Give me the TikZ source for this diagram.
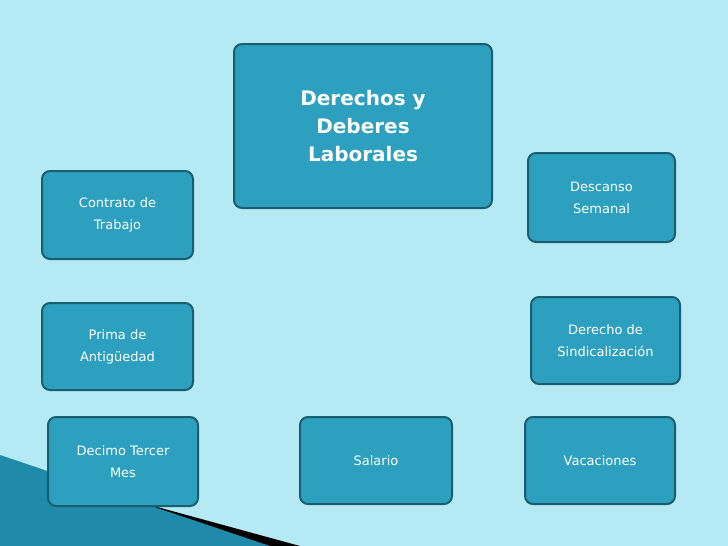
\documentclass[tikz,border=0pt]{standalone}
\usepackage{fontspec}
\setmainfont{DejaVu Sans}
\begin{document}
\begin{tikzpicture}[x=1pt,y=-1pt,
  bx/.style={draw=boxedge,line width=2pt,fill=boxfill,rounded corners=8pt,text=white,align=center,font=\fontsize{13}{22}\selectfont,anchor=north west,inner sep=0pt},
  band/.style={draw=bandc,line width=11pt}]
\definecolor{bg}{HTML}{B5E9F3}
\definecolor{boxfill}{HTML}{2CA0BE}
\definecolor{boxedge}{HTML}{195F70}
\definecolor{bandc}{HTML}{A9CEDC}
\definecolor{wedge}{HTML}{1F8AAA}
\fill[bg] (0,0) rectangle (728,546);
\useasboundingbox (0,0) rectangle (728,546);
% decorative wedge
\fill[black] (0,470) -- (150,505) -- (300,546) -- (0,546) -- cycle;
\fill[wedge] (0,455) -- (270,546) -- (0,546) -- cycle;
% nodes
\node[bx,minimum width=258pt,minimum height=164pt,font=\bfseries\fontsize{20}{28}\selectfont] (m) at (233,43) {Derechos y\\Deberes\\Laborales};
\node[bx,minimum width=151pt,minimum height=88pt] (c) at (41,170) {Contrato de\\Trabajo};
\node[bx,minimum width=147pt,minimum height=89pt] (d) at (527,152) {Descanso\\Semanal};
\node[bx,minimum width=151pt,minimum height=87pt] (p) at (41,302) {Prima de\\Antigüedad};
\node[bx,minimum width=149pt,minimum height=87pt] (s) at (530,296) {Derecho de\\Sindicalización};
\node[bx,minimum width=150pt,minimum height=89pt] (t) at (47,416) {Decimo Tercer\\Mes};
\node[bx,minimum width=152pt,minimum height=87pt] (sa) at (299,416) {Salario};
\node[bx,minimum width=150pt,minimum height=87pt] (v) at (524,416) {Vacaciones};
% bands
\begin{scope}[on background layer/.style={}]
\end{scope}
\begin{pgfonlayer}{main}\end{pgfonlayer}
\end{tikzpicture}
\end{document}
